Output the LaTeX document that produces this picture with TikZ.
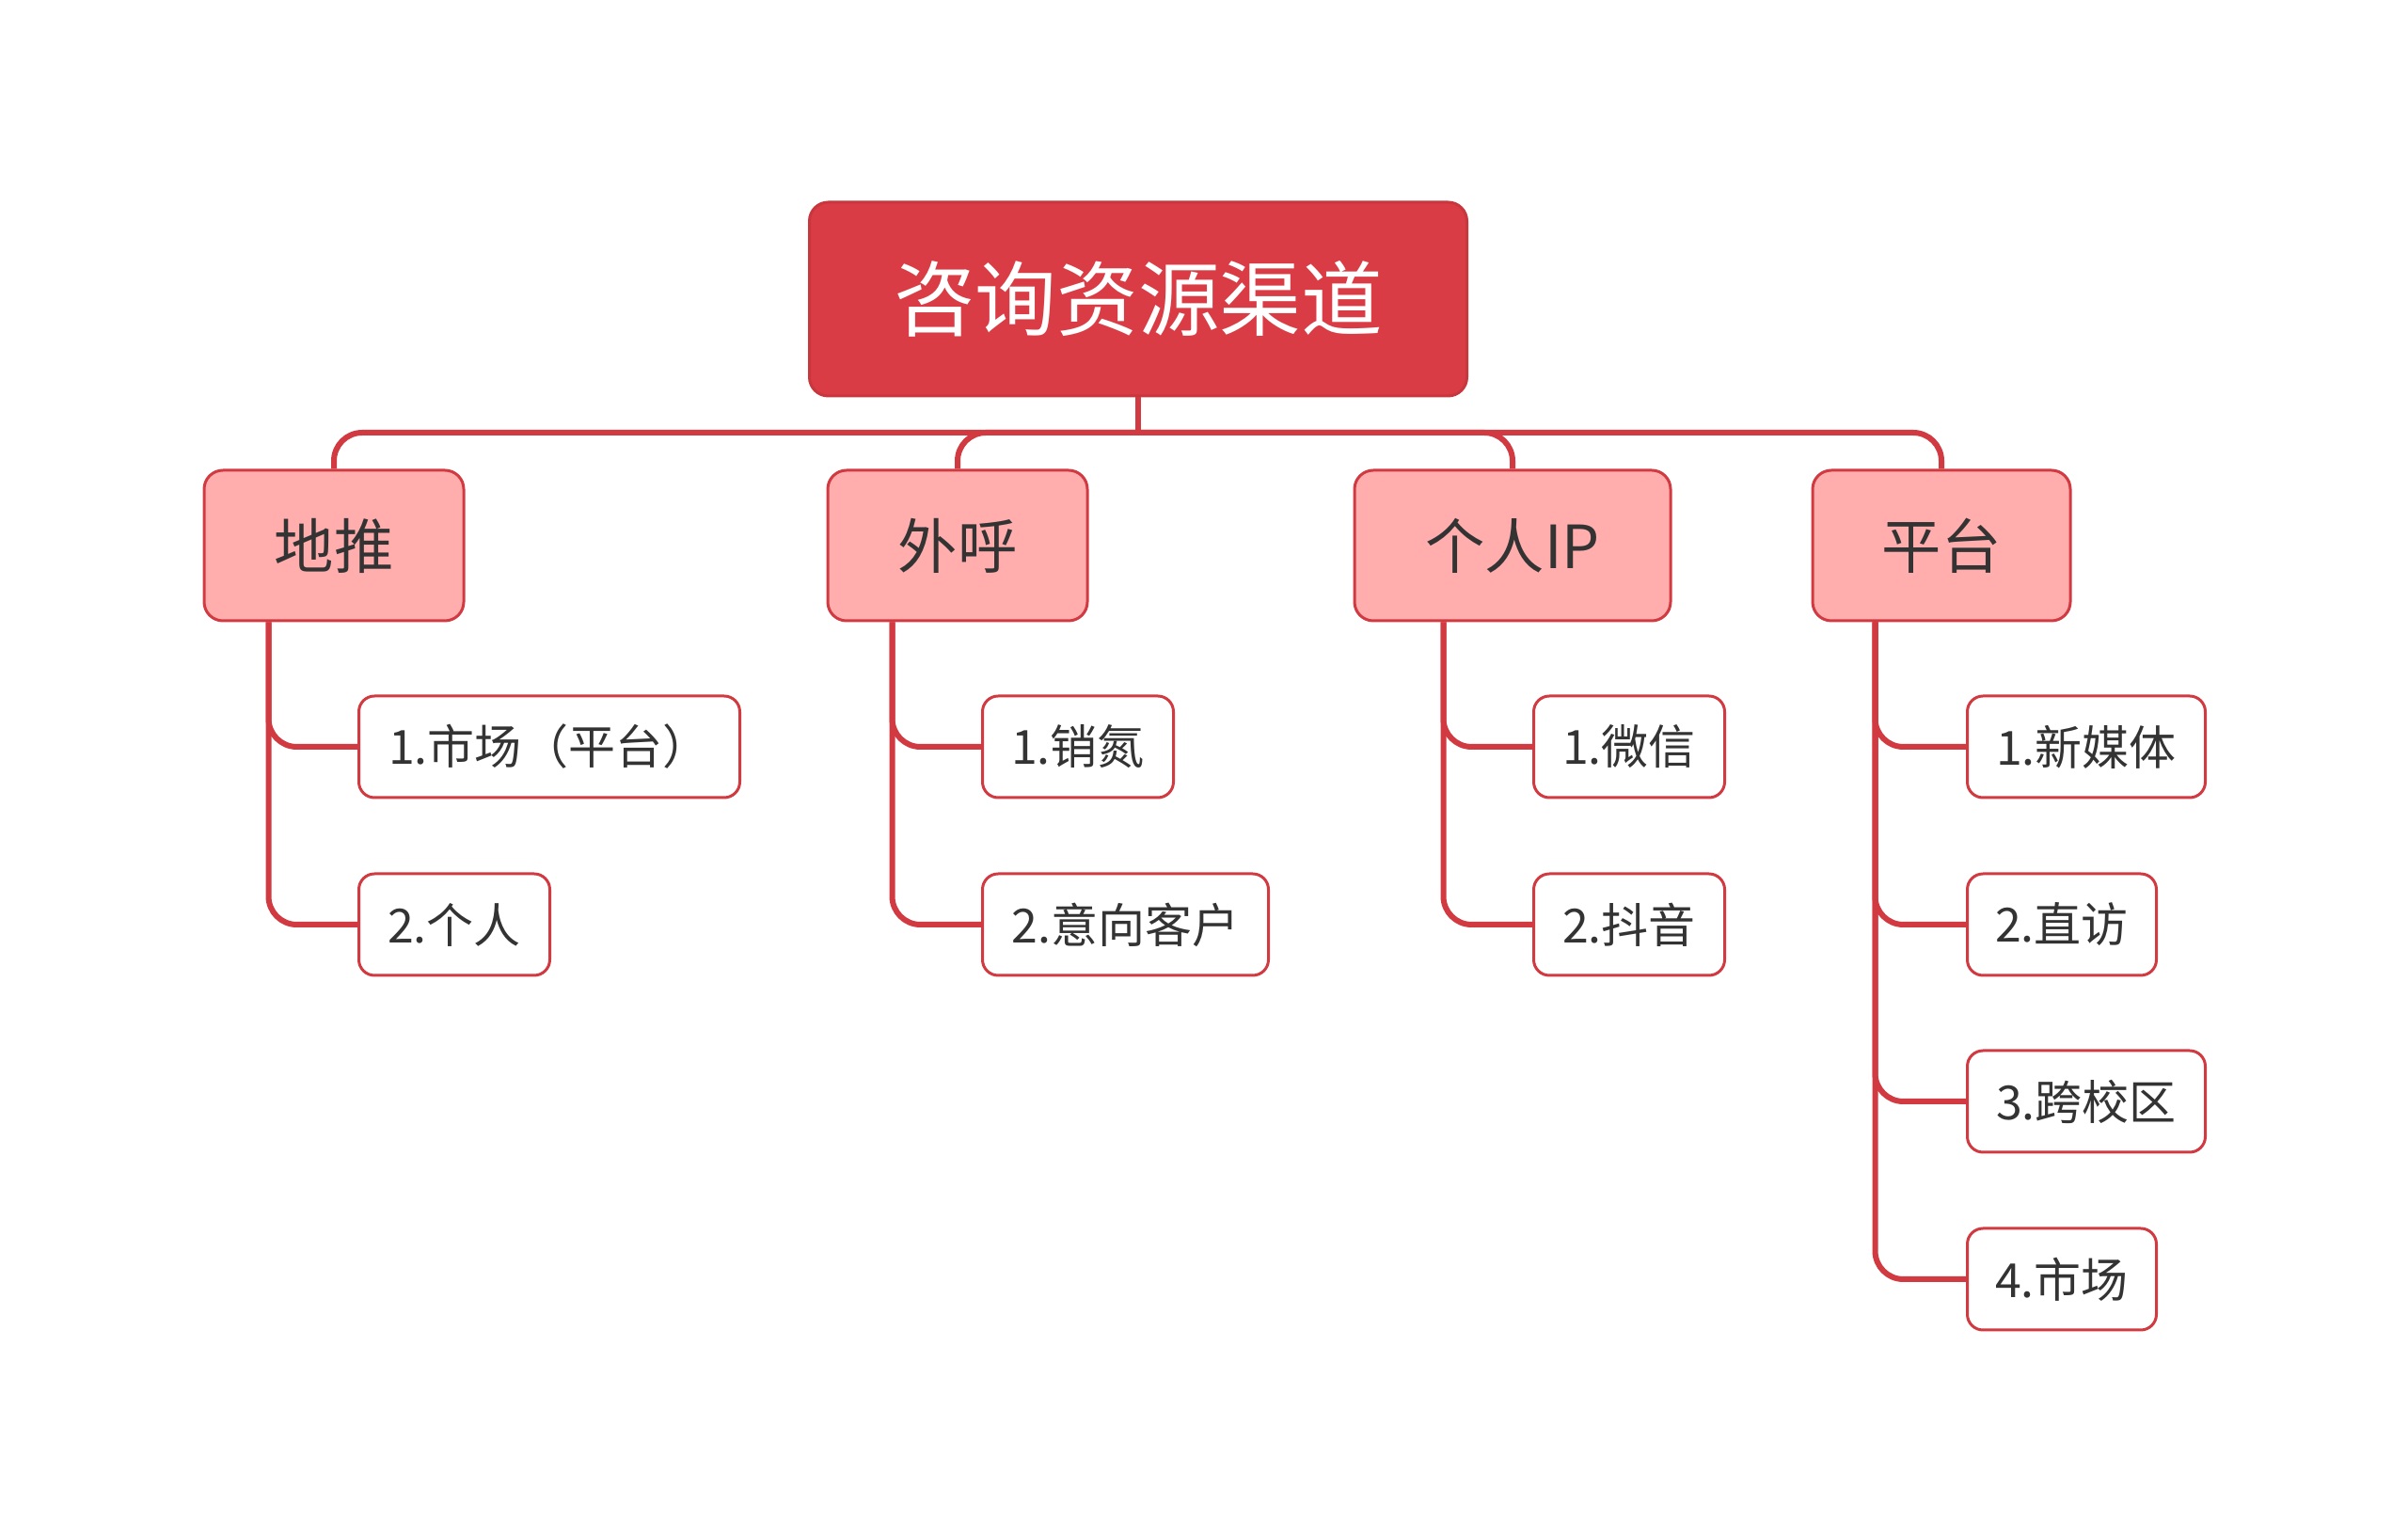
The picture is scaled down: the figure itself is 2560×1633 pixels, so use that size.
\documentclass[tikz,border=0pt]{standalone}
\usepackage{fontspec}
\setmainfont{Noto Sans CJK SC}
\usetikzlibrary{calc}
\definecolor{rootred}{HTML}{D93C44}
\definecolor{rootline}{HTML}{C8363E}
\definecolor{pinkfill}{HTML}{FFADAD}
\definecolor{linered}{HTML}{D23A42}
\definecolor{txt}{HTML}{333333}
\begin{document}
\begin{tikzpicture}[x=0.3pt,y=-0.3pt,
  rootbox/.style={draw=rootline,fill=rootred,line width=0.9pt,rounded corners=6pt,
    minimum width=209.7pt,minimum height=61.8pt,inner sep=0pt,
    text=white,font=\fontsize{26}{30}\selectfont},
  lvlbox/.style={draw=linered,fill=pinkfill,line width=0.9pt,rounded corners=6pt,
    minimum height=48pt,inner sep=0pt,text=txt,font=\fontsize{19}{23}\selectfont},
  leafbox/.style={draw=linered,fill=white,line width=0.9pt,rounded corners=5pt,
    minimum height=32.4pt,inner sep=0pt,anchor=west,text=txt,font=\fontsize{15}{18}\selectfont},
  conn/.style={draw=linered,line width=1.8pt},
  curvy/.style={conn,rounded corners=9pt}]
\useasboundingbox (0,0) rectangle (2560,1633);

% root
\node[rootbox] (root) at (1210,318) {咨询资源渠道};
\coordinate (bus) at (1210,460);

% level 1
\node[lvlbox,minimum width=82.8pt]  (a) at (355,580)  {地推};
\node[lvlbox,minimum width=82.8pt]  (b) at (1018,580) {外呼};
\node[lvlbox,minimum width=100.8pt] (c) at (1608,580) {个人IP};
\node[lvlbox,minimum width=82.2pt]  (d) at (2064,580) {平台};

\draw[conn] (root.south) -- (bus);
\foreach \n in {a,b,c,d}{
  \draw[curvy] (bus) -| (\n.north);
}

% leaves
\node[leafbox,minimum width=121.5pt] (a1) at (380,794) {1.市场（平台）};
\node[leafbox,minimum width=60.9pt]  (a2) at (380,983) {2.个人};
\node[leafbox,minimum width=60.9pt]  (b1) at (1043,794) {1.销氮};
\node[leafbox,minimum width=91.2pt]  (b2) at (1043,983) {2.意向客户};
\node[leafbox,minimum width=60.9pt]  (c1) at (1629,794) {1.微信};
\node[leafbox,minimum width=60.9pt]  (c2) at (1629,983) {2.抖音};
\node[leafbox,minimum width=75.9pt]  (d1) at (2090,794) {1.新媒体};
\node[leafbox,minimum width=60.3pt]  (d2) at (2090,983) {2.直访};
\node[leafbox,minimum width=75.9pt]  (d3) at (2090,1171) {3.跨校区};
\node[leafbox,minimum width=60.3pt]  (d4) at (2090,1360) {4.市场};

% trunks
\coordinate (ta) at ($(a.south west)+(70,0)$);
\coordinate (tb) at ($(b.south west)+(70,0)$);
\coordinate (tc) at ($(c.south west)+(96,0)$);
\coordinate (td) at ($(d.south west)+(68,0)$);

\foreach \t/\l in {ta/a1,ta/a2,tb/b1,tb/b2,tc/c1,tc/c2,td/d1,td/d2,td/d3,td/d4}{
  \draw[curvy] (\t) |- (\l.west);
}
\end{tikzpicture}
\end{document}
